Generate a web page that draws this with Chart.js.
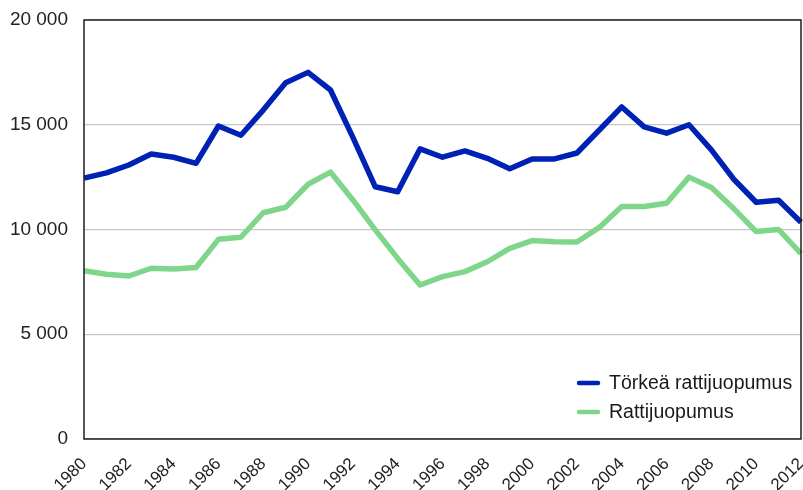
<!DOCTYPE html>
<html>
<head>
<meta charset="utf-8">
<script src="https://cdn.jsdelivr.net/npm/chart.js@4/dist/chart.umd.min.js"></script>
<style>
  html, body { margin: 0; padding: 0; background: #ffffff; }
  #wrap { width: 803px; height: 490px; position: relative; }
</style>
</head>
<body>
<div id="wrap"><canvas id="c" width="803" height="490"></canvas></div>
<script>
const years = ['1980','1981','1982','1983','1984','1985','1986','1987','1988','1989','1990','1991','1992','1993','1994','1995','1996','1997','1998','1999','2000','2001','2002','2003','2004','2005','2006','2007','2008','2009','2010','2011','2012'];
const torkeaRattijuopumus = [12450,12700,13080,13600,13450,13160,14940,14500,15700,17000,17500,16660,14400,12040,11800,13850,13450,13750,13400,12900,13370,13370,13650,14750,15850,14900,14600,15000,13800,12400,11300,11400,10350];
const rattijuopumus = [8030,7860,7780,8150,8110,8190,9530,9630,10800,11060,12160,12740,11410,9980,8620,7350,7750,7990,8460,9100,9470,9420,9400,10100,11100,11100,11250,12500,12000,11000,9900,10000,8850];
const seriesNames = ['Törkeä rattijuopumus', 'Rattijuopumus'];
const yTicks = [0, 5000, 10000, 15000, 20000];

Chart.defaults.font.family = "'Liberation Sans', Arial, sans-serif";
Chart.defaults.color = '#222';

const frame = {
  id: 'frame',
  afterDatasetsDraw(chart) {
    const a = chart.chartArea, ctx = chart.ctx;
    ctx.save();
    ctx.strokeStyle = '#1e1e1e';
    ctx.lineWidth = 1.5;
    ctx.strokeRect(a.left, a.top, a.right - a.left, a.bottom - a.top);
    ctx.restore();
  },
  afterDraw(chart) {
    const a = chart.chartArea, ctx = chart.ctx;
    ctx.save();
    ctx.font = "19.5px 'Liberation Sans', Arial, sans-serif";
    ctx.textBaseline = 'middle';
    ctx.textAlign = 'left';
    chart.data.datasets.forEach((ds, i) => {
      const y = a.bottom - 56 + i * 29;
      const x0 = a.right - 224;
      ctx.strokeStyle = ds.borderColor;
      ctx.lineWidth = 4.5;
      ctx.lineCap = 'round';
      ctx.beginPath();
      ctx.moveTo(x0 + 2, y);
      ctx.lineTo(x0 + 21, y);
      ctx.stroke();
      ctx.fillStyle = '#1a1a1a';
      ctx.fillText(ds.label, x0 + 32, y + 1);
    });
    ctx.restore();
  }
};

new Chart(document.getElementById('c'), {
  type: 'line',
  data: {
    labels: years,
    datasets: [
      { label: seriesNames[0], data: torkeaRattijuopumus, borderColor: '#0022b4', borderWidth: 5.5, pointRadius: 0, tension: 0, fill: false, borderJoinStyle: 'round' },
      { label: seriesNames[1], data: rattijuopumus, borderColor: '#7fd68a', borderWidth: 5.5, pointRadius: 0, tension: 0, fill: false, borderJoinStyle: 'round' }
    ]
  },
  options: {
    responsive: false,
    animation: false,
    layout: { padding: { top: 20, right: 2, left: 0, bottom: 0 } },
    plugins: { legend: { display: false }, tooltip: { enabled: false } },
    scales: {
      x: {
        offset: false,
        grid: { display: false, drawTicks: false },
        border: { display: false },
        ticks: {
          autoSkip: false,
          minRotation: 45,
          maxRotation: 45,
          padding: 15,
          font: { size: 17 },
          color: '#222',
          callback: function(v, i) { return i % 2 === 0 ? this.getLabelForValue(v) : ''; }
        },
        afterFit(s) { s.height = 51; s.paddingLeft = 0; s.paddingRight = 0; }
      },
      y: {
        min: 0,
        max: 20000,
        afterBuildTicks(s) { s.ticks = yTicks.map(v => ({ value: v })); },
        grid: { color: '#c6c6c6', lineWidth: 1.2, drawTicks: false },
        border: { display: false },
        ticks: {
          padding: 16,
          font: { size: 19 },
          color: '#222',
          callback: v => String(v).replace(/\B(?=(\d{3})+(?!\d))/g, ' ')
        },
        afterFit(s) { s.width = 84; s.paddingTop = 0; s.paddingBottom = 0; }
      }
    }
  },
  plugins: [frame]
});
</script>
</body>
</html>
